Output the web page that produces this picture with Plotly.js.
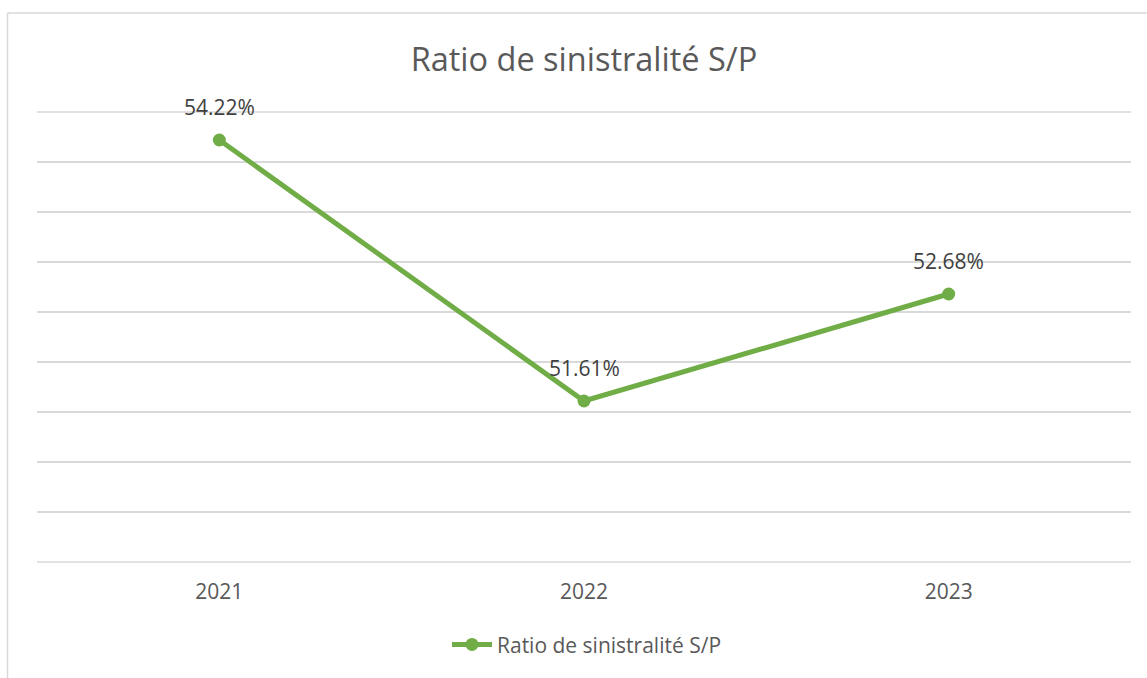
<!DOCTYPE html>
<html>
<head>
<meta charset="utf-8">
<script src="https://cdn.plot.ly/plotly-3.0.1.min.js"></script>
<style>html,body{margin:0;padding:0;background:#fff;}#chart{width:1147px;height:678px;}</style>
</head>
<body>
<div id="chart"></div>
<script>
const years = ['2021', '2022', '2023'];
const ratios = [54.22, 51.61, 52.68];
const seriesName = 'Ratio de sinistralité S/P';
const chartTitle = 'Ratio de sinistralité S/P';

const labels = ratios.map(v => v.toFixed(2) + '%');
const FONT = '"Open Sans", "Noto Sans", sans-serif';

const trace = {
  x: years,
  y: ratios,
  type: 'scatter',
  mode: 'lines+markers',
  name: seriesName,
  line: {color: '#70AD47', width: 5},
  marker: {color: '#70AD47', size: 13},
  cliponaxis: false,
  hoverinfo: 'x+y'
};

// category axis: annotation x uses the category index
const annotations = years.map((yr, i) => ({
  x: i, y: ratios[i], xref: 'x', yref: 'y',
  text: labels[i], showarrow: false,
  yshift: 33,
  font: {family: FONT, size: 21, color: '#404040'}
}));

const gridColor = '#d9d9d9';
const layout = {
  width: 1147,
  height: 678,
  margin: {l: 37, r: 16, t: 112, b: 116},
  paper_bgcolor: '#ffffff',
  plot_bgcolor: '#ffffff',
  font: {family: FONT, color: '#595959'},
  title: {
    text: chartTitle,
    font: {family: FONT, size: 32.5, color: '#595959'},
    x: 0.5, xref: 'paper', xanchor: 'center',
    y: 1 - 60/678, yref: 'container', yanchor: 'middle'
  },
  xaxis: {
    type: 'category',
    range: [-0.5, 2.5],
    showgrid: false,
    zeroline: false,
    showline: false,
    ticks: '',
    ticklabelstandoff: 15,
    tickfont: {family: FONT, size: 21, color: '#595959'}
  },
  yaxis: {
    range: [50, 54.5],
    dtick: 0.5,
    tick0: 50,
    showgrid: true,
    gridcolor: gridColor,
    gridwidth: 1.3,
    zeroline: false,
    showline: false,
    showticklabels: false,
    ticks: ''
  },
  annotations: annotations,
  showlegend: true,
  legend: {
    orientation: 'h',
    x: 0.5 + 3/1094, xanchor: 'center',
    y: -0.184, yanchor: 'middle',
    font: {family: FONT, size: 21, color: '#595959'},
    itemwidth: 40
  },
  shapes: [
    {type: 'line', xref: 'paper', yref: 'paper', x0: 0, x1: 1, y0: 1, y1: 1, layer: 'below', line: {color: gridColor, width: 1.3}},
    {type: 'line', xref: 'paper', yref: 'paper', x0: 0, x1: 1, y0: 0, y1: 0, layer: 'below', line: {color: gridColor, width: 1.3}},
    {type: 'line', xref: 'paper', yref: 'paper', x0: (7.5-37)/1094, x1: (7.5-37)/1094, y0: (562-13)/450, y1: -0.3, line: {color: gridColor, width: 1.5}},
    {type: 'line', xref: 'paper', yref: 'paper', x0: (7.5-37)/1094, x1: 1.1, y0: (562-13)/450, y1: (562-13)/450, line: {color: gridColor, width: 1.5}}
  ]
};

Plotly.newPlot('chart', [trace], layout, {displayModeBar: false, staticPlot: true});
</script>
</body>
</html>
